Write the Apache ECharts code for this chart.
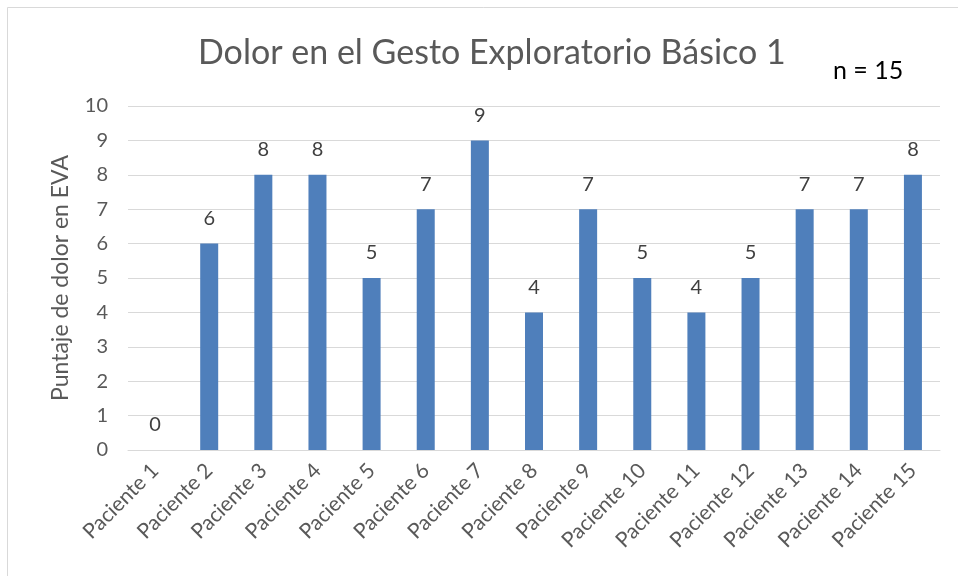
<!DOCTYPE html>
<html><head><meta charset="utf-8">
<script src="https://cdn.jsdelivr.net/npm/echarts@6/dist/echarts.min.js"></script>
<style>html,body{margin:0;padding:0;background:#fff}#c{width:958px;height:576px}</style>
</head><body><div id="c"></div>
<script>
const categories = ['Paciente 1','Paciente 2','Paciente 3','Paciente 4','Paciente 5','Paciente 6','Paciente 7','Paciente 8','Paciente 9','Paciente 10','Paciente 11','Paciente 12','Paciente 13','Paciente 14','Paciente 15'];
const values = [0,6,8,8,5,7,9,4,7,5,4,5,7,7,8];
const titleText = 'Dolor en el Gesto Exploratorio Básico 1';
const noteText = 'n = 15';
const yAxisName = 'Puntaje de dolor en EVA';

const chart = echarts.init(document.getElementById('c'), null, {renderer:'canvas'});
const font = 'Lato, "Open Sans", sans-serif';
chart.setOption({
  animation:false,
  backgroundColor:'#fff',
  title:{text:titleText,left:193,top:31,textStyle:{fontFamily:font,fontSize:34,fontWeight:'normal',color:'#595959'}},
  graphic:[
    {type:'rect',shape:{x:7.5,y:7.5,width:960,height:600},style:{fill:'none',stroke:'#d9d9d9',lineWidth:1},silent:true},
    {type:'text',left:833,top:58,style:{text:noteText,font:'25px '+font,fill:'#000'}}
  ],
  grid:{left:128,right:18,top:106,bottom:126,containLabel:false},
  xAxis:{type:'category',data:categories,
    axisLine:{lineStyle:{color:'#d9d9d9',width:1}},axisTick:{show:false},
    axisLabel:{rotate:45,interval:0,margin:17,fontFamily:font,fontSize:21,color:'#595959'}},
  yAxis:{type:'value',min:0,max:10,interval:1,name:yAxisName,nameLocation:'middle',nameGap:56,nameRotate:90,
    nameTextStyle:{fontFamily:font,fontSize:23,color:'#595959'},
    axisLine:{show:false},axisTick:{show:false},
    axisLabel:{fontFamily:font,fontSize:20,color:'#595959',margin:20},
    splitLine:{lineStyle:{color:'#d9d9d9',width:1}}},
  series:[{type:'bar',data:values,barWidth:18,itemStyle:{color:'#4f7fbb'},
    label:{show:true,position:'top',distance:15,fontFamily:font,fontSize:20,color:'#404040'}}]
});
</script></body></html>
